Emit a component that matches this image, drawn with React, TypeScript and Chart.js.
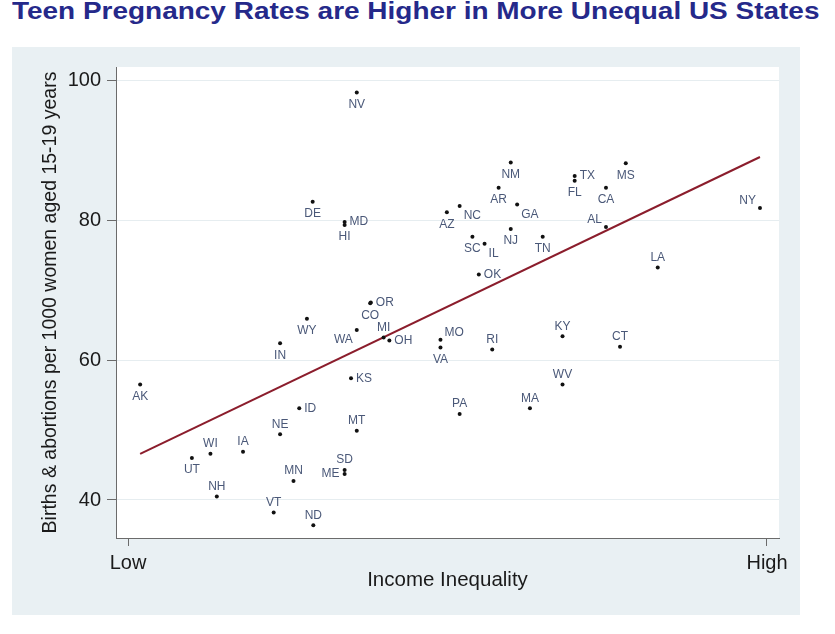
import React, { useEffect, useRef } from 'react';
import { Chart, registerables } from 'chart.js';

Chart.register(...registerables);

const FONT = '"Liberation Sans", Arial, sans-serif';

// State abbreviations, income inequality (0 = Low, 100 = High), teen births & abortions per 1000
const states = ['AK','UT','WI','NH','IA','IN','NE','VT','MN','ID','WY','DE','ND','MD','HI','SD','ME','KS','NV','WA','MT','OR','CO','MI','OH','MO','VA','AZ','PA','NC','SC','OK','IL','RI','AR','NM','NJ','GA','MA','TN','KY','WV','TX','FL','CA','AL','CT','MS','LA','NY'];
const inequality = [1.9,10.0,12.9,13.9,18.0,23.8,23.8,22.8,25.9,26.8,28.0,28.9,29.0,33.9,33.9,33.9,33.9,34.9,35.8,35.8,35.8,38.0,37.9,40.0,40.9,48.9,48.9,49.9,51.9,51.9,53.9,54.9,55.8,57.0,58.0,59.9,59.9,60.9,62.9,64.9,68.0,68.0,69.9,69.9,74.8,74.8,77.0,77.9,82.9,98.9];
const teenRates = [56.5,46.0,46.6,40.5,46.9,62.4,49.4,38.2,42.7,53.1,65.9,82.6,36.4,79.7,79.3,44.3,43.7,57.4,98.2,64.3,49.9,68.2,68.1,63.2,62.8,62.9,61.8,81.1,52.3,82.0,77.6,72.2,76.6,61.5,84.6,88.2,78.7,82.2,53.1,77.6,63.4,56.5,86.3,85.6,84.6,79.0,61.9,88.1,73.2,81.7];
// label position around each marker, clock style (12 above, 3 right, 6 below, 9 left ...)
const labelPos = [6,6,12,12,12,6,12,12,12,3,6,6,12,3,6,12,9,3,6,8,12,3,6,12,3,2,6,6,12,4,6,3,4,12,6,6,6,4,12,6,12,12,3,6,6,10,12,6,12,10];

// fitted regression line end points
const fitX = [1.9, 98.9];
const fitY = [46.6, 89.0];

const xTickValues = [0, 100];
const xTickLabels = ['Low', 'High'];
const yTickValues = [40, 60, 80, 100];

const plotBg = {
  id: 'plotBg',
  beforeDraw(chart: any) {
    const { ctx, chartArea } = chart;
    ctx.save();
    ctx.fillStyle = '#ffffff';
    ctx.fillRect(chartArea.left, chartArea.top, chartArea.right - chartArea.left, chartArea.bottom - chartArea.top);
    ctx.restore();
  },
};

const stateLabels = {
  id: 'stateLabels',
  afterDatasetsDraw(chart: any) {
    const meta = chart.getDatasetMeta(0);
    const ctx = chart.ctx;
    ctx.save();
    ctx.font = '12px ' + FONT;
    ctx.fillStyle = '#4a5878';
    ctx.textBaseline = 'middle';
    meta.data.forEach((pt: any, i: number) => {
      let dx = 0, dy = 0, align: CanvasTextAlign = 'center';
      switch (labelPos[i]) {
        case 12: dy = -10; break;
        case 6: dy = 12; break;
        case 3: dx = 5; align = 'left'; break;
        case 9: dx = -5; align = 'right'; break;
        case 2: dx = 4; dy = -7; align = 'left'; break;
        case 4: dx = 4; dy = 10; align = 'left'; break;
        case 8: dx = -4; dy = 10; align = 'right'; break;
        case 10: dx = -4; dy = -7; align = 'right'; break;
      }
      ctx.textAlign = align;
      ctx.fillText(states[i], pt.x + dx, pt.y + dy);
    });
    ctx.restore();
  },
};

export default function App() {
  const ref = useRef<HTMLCanvasElement>(null);

  useEffect(() => {
    if (!ref.current) return;
    Chart.defaults.font.family = FONT;
    const axisColor = '#6b6b6b';
    const chart = new Chart(ref.current, {
      type: 'scatter',
      data: {
        datasets: [
          {
            label: 'States',
            data: states.map((_, i) => ({ x: inequality[i], y: teenRates[i] })),
            pointRadius: 2,
            pointBorderWidth: 0,
            backgroundColor: '#111111',
            borderColor: '#111111',
          },
          {
            label: 'Fit',
            data: fitX.map((x, i) => ({ x, y: fitY[i] })),
            showLine: true,
            pointRadius: 0,
            borderColor: '#8b1d2c',
            borderWidth: 2,
          },
        ],
      },
      options: {
        responsive: true,
        maintainAspectRatio: false,
        animation: false,
        layout: { padding: { left: 0, right: 21, top: 20, bottom: 0 } },
        plugins: { legend: { display: false }, tooltip: { enabled: false }, title: { display: false } },
        scales: {
          x: {
            type: 'linear',
            min: -1.878,
            max: 101.878,
            afterBuildTicks: (s: any) => { s.ticks = xTickValues.map((v) => ({ value: v })); },
            afterFit: (s: any) => { s.height = 77; },
            grid: { drawOnChartArea: false, drawTicks: true, tickLength: 8, tickColor: axisColor },
            border: { display: true, color: axisColor, width: 1 },
            ticks: {
              autoSkip: false,
              maxRotation: 0,
              padding: 5,
              color: '#1a1a1a',
              font: { size: 20 },
              callback: (_v: any, i: number) => xTickLabels[i],
            },
            title: {
              display: true,
              text: 'Income Inequality',
              color: '#1a1a1a',
              font: { size: 20.5 },
              padding: { top: 0, bottom: 22 },
            },
          },
          y: {
            type: 'linear',
            min: 34.57,
            max: 101.86,
            afterBuildTicks: (s: any) => { s.ticks = yTickValues.map((v) => ({ value: v })); },
            afterFit: (s: any) => { s.width = 104; },
            grid: { color: '#e6edf0', lineWidth: 1, drawTicks: true, tickLength: 9, tickColor: axisColor },
            border: { display: true, color: axisColor, width: 1 },
            ticks: { padding: 6, color: '#1a1a1a', font: { size: 20 } },
            title: {
              display: true,
              text: 'Births & abortions per 1000 women aged 15-19 years',
              color: '#1a1a1a',
              font: { size: 19.5 },
              padding: { top: 26.6, bottom: 0 },
            },
          },
        },
      },
      plugins: [plotBg, stateLabels],
    } as any);
    return () => chart.destroy();
  }, []);

  return (
    <div style={{ position: 'absolute', left: 0, top: 0, width: 835, height: 634, background: '#ffffff', overflow: 'hidden' }}>
      <div
        style={{
          position: 'absolute',
          left: 12,
          top: -1,
          whiteSpace: 'nowrap',
          font: 'bold 24px ' + FONT,
          lineHeight: '24px',
          color: '#25298a',
          transform: 'scaleX(1.165)',
          transformOrigin: '0 0',
        }}
      >
        Teen Pregnancy Rates are Higher in More Unequal US States
      </div>
      <div style={{ position: 'absolute', left: 12, top: 47, width: 788, height: 568, background: '#e9f0f3' }}>
        <canvas ref={ref} />
      </div>
    </div>
  );
}
